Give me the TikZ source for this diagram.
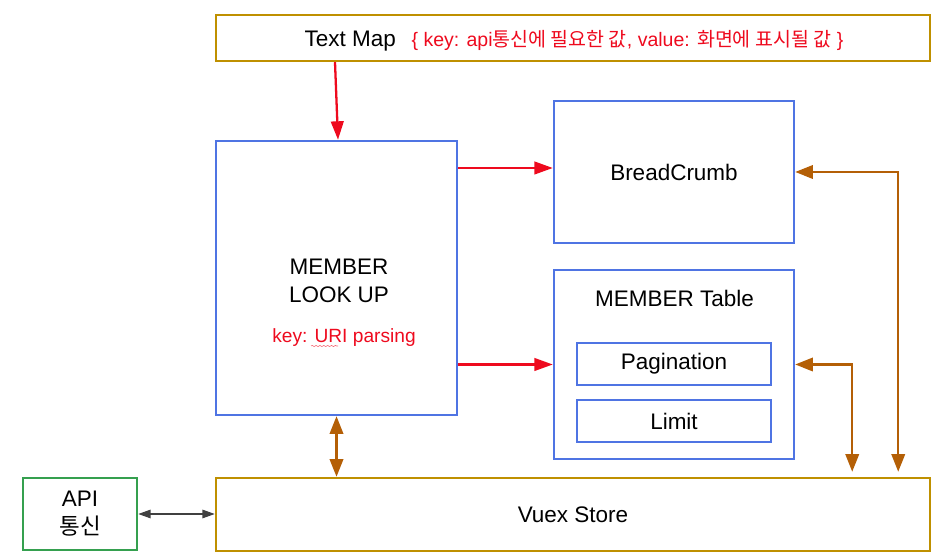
\documentclass[tikz,border=0pt]{standalone}
\usepackage{fontspec}
\setmainfont{Liberation Sans}
\newfontfamily\krfont{Noto Sans CJK KR}
\usetikzlibrary{arrows.meta,decorations.pathmorphing}
\definecolor{mapGold}{HTML}{bf9000}
\definecolor{viewBlue}{HTML}{4f74e3}
\definecolor{apiGreen}{HTML}{35a04f}
\definecolor{storeBrown}{HTML}{b45f06}
\definecolor{noteRed}{HTML}{ee0a1e}
\definecolor{linkGrey}{HTML}{404040}
\tikzset{
  store/.style={draw=mapGold, line width=1.4pt, inner sep=0pt,
              align=center, font=\fontsize{12.8}{15.5}\selectfont},
  view/.style={draw=viewBlue, line width=1.4pt, inner sep=0pt,
              align=center, font=\fontsize{12.8}{15.5}\selectfont},
  api/.style={draw=apiGreen, line width=1.4pt, inner sep=0pt,
              align=center, font=\fontsize{12.8}{16}\selectfont},
  txt/.style={inner sep=0pt, align=center, font=\fontsize{12.8}{15.5}\selectfont},
  note/.style={inner sep=0pt, text=noteRed, font=\fontsize{10.9}{13}\selectfont},
  pass/.style={-{Triangle[length=10.5pt,width=7.2pt]}, draw=noteRed, line width=1.3pt},
  sync/.style={{Triangle[length=10pt,width=7.6pt]}-{Triangle[length=10pt,width=7.6pt]},
              draw=storeBrown, line width=1.3pt},
  call/.style={{Triangle[length=7pt,width=4.8pt]}-{Triangle[length=7pt,width=4.8pt]},
              draw=linkGrey, line width=0.8pt},
}
\begin{document}
\begin{tikzpicture}
  \useasboundingbox (0,0) rectangle (18.76,11.18);
  % text map on top
  \node[store,minimum width=14.28cm,minimum height=0.92cm] (map) at (11.46,10.42){};
  \node[txt,anchor=base] (mapname) at (11.48,10.25)
    {Text Map\hspace{0.7em}{\color{noteRed}\fontsize{11.1}{13}\selectfont
     \{ key: api{\krfont 통신에 필요한 값}, value: {\krfont 화면에 표시될 값} \}}};
  % page component
  \node[view,minimum width=4.82cm,minimum height=5.48cm] (look) at (6.73,5.62){};
  \node[txt] (lookname) at (6.78,5.56){MEMBER\\LOOK UP};
  \node[note,anchor=base west] (lookkey) at (5.44,4.33){key: URI parsing};
  \draw[noteRed!60,line width=0.35pt,decorate,
        decoration={snake,amplitude=0.35pt,segment length=2.2pt}]
        (6.22,4.26) -- (6.76,4.26);
  % child components
  \node[view,minimum width=4.80cm,minimum height=2.84cm] (crumb) at (13.48,7.74){BreadCrumb};
  \node[view,minimum width=4.80cm,minimum height=3.78cm] (table) at (13.48,3.89){};
  \node[txt,anchor=base] (tablename) at (13.49,5.05){MEMBER Table};
  \node[view,minimum width=3.88cm,minimum height=0.84cm] (page) at (13.48,3.90){Pagination};
  \node[view,minimum width=3.88cm,minimum height=0.84cm] (limit) at (13.48,2.76){Limit};
  % store and api
  \node[store,minimum width=14.28cm,minimum height=1.46cm] (vuex) at (11.46,0.89){Vuex Store};
  \node[api,minimum width=2.28cm,minimum height=1.44cm] (api) at (1.60,0.90){API\\{\krfont 통신}};
  % connectors
  \draw[pass] ([xshift=-0.03cm]map.south -| look.north) -- ([xshift=0.03cm]look.north);
  \draw[pass] ([yshift=0.08cm]look.east |- crumb.west) -- ([yshift=0.08cm]crumb.west);
  \draw[pass] (look.east |- table.west) -- (table.west);
  \draw[sync] (look.south) -- (look.south |- vuex.north);
  \draw[sync] (crumb.east) -| ([xshift=-0.66cm,yshift=0.1cm]vuex.north east);
  \draw[sync] (table.east) -| ([xshift=-1.58cm,yshift=0.1cm]vuex.north east);
  \draw[call] (api.east) -- (api.east -| vuex.west);
\end{tikzpicture}
\end{document}
